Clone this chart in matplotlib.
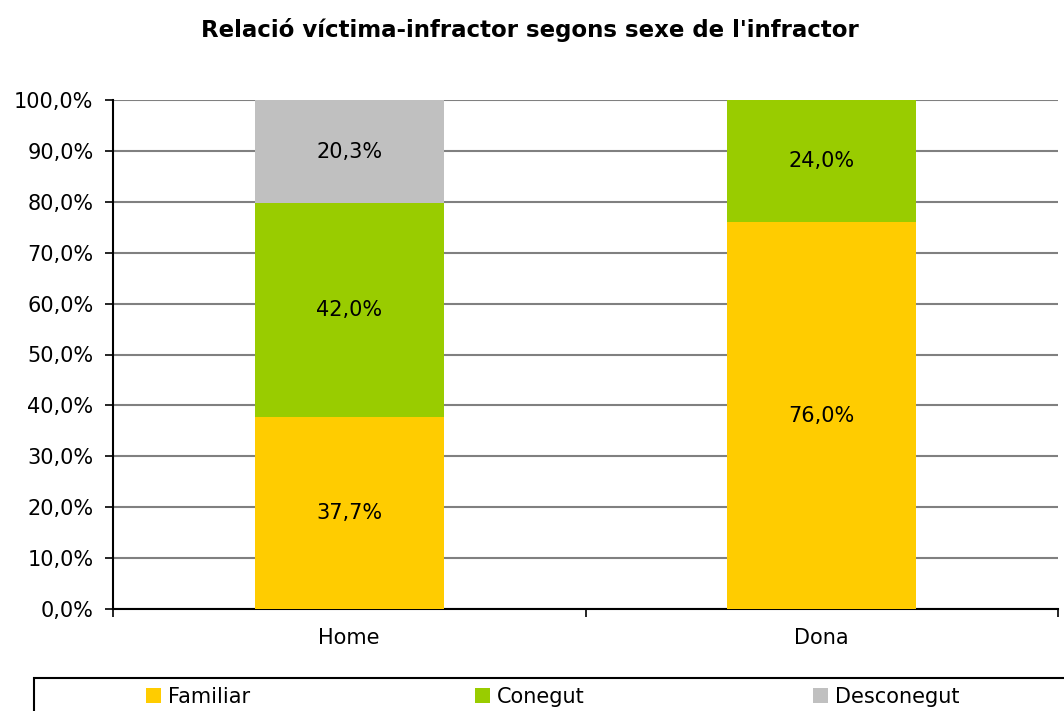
import matplotlib
matplotlib.use("Agg")
import matplotlib.pyplot as plt
from matplotlib.patches import Rectangle
from matplotlib.ticker import FixedLocator, FuncFormatter

categories = ["Home", "Dona"]
series_names = ["Familiar", "Conegut", "Desconegut"]
familiar = [37.7, 76.0]
conegut = [42.0, 24.0]
desconegut = [20.3, 0.0]
colors = ["#FFCC00", "#99CC00", "#C0C0C0"]
title = "Relació víctima-infractor segons sexe de l'infractor"

FS = 15
W, H = 1064, 711
plt.rcParams['font.family'] = ['DejaVu Sans']
fig = plt.figure(figsize=(W/100, H/100), dpi=100)
ax = fig.add_axes([113/W, 1-609/H, (1058-113)/W, (609-100)/H])

x = list(range(len(categories)))
bottom = [0.0] * len(categories)
handles = []
for name, vals, col in zip(series_names, [familiar, conegut, desconegut], colors):
    bars = ax.bar(x, vals, width=0.4, bottom=bottom, color=col, label=name, zorder=3)
    handles.append(bars)
    for xi, v, b in zip(x, vals, bottom):
        if v > 0:
            ax.text(xi, b + v / 2, f"{v:.1f}%".replace(".", ","), ha="center", va="center",
                    fontsize=FS, color="black", zorder=4)
    bottom = [b + v for b, v in zip(bottom, vals)]

ax.set_xlim(-0.5, 1.5)
ax.set_ylim(0, 100)
ax.yaxis.set_major_locator(FixedLocator(range(0, 101, 10)))
ax.yaxis.set_major_formatter(FuncFormatter(lambda v, p: f"{v:.1f}%".replace(".", ",")))
ax.set_xticks(x)
ax.set_xticklabels(categories, fontsize=FS)
ax.set_xticks([-0.5, 0.5, 1.5], minor=True)
ax.tick_params(axis="x", which="major", length=0, pad=14)
ax.tick_params(axis="x", which="minor", length=6, width=1.2, direction="out")
ax.tick_params(axis="y", labelsize=FS, length=6, width=1.2, direction="out", pad=8)
ax.grid(axis="y", color="#808080", linewidth=1.5, zorder=1)
for s in ["top", "right"]:
    ax.spines[s].set_visible(False)
for s in ["left", "bottom"]:
    ax.spines[s].set_linewidth(1.5)
    ax.spines[s].set_color("black")

fig.text(530/W, 1 - 30/H, title, ha="center", va="center", fontsize=16.5, fontweight="bold")

# legend frame (extends beyond the figure edges, as in the reference)
fig.patches.append(Rectangle((34/W, 1 - 760/H), 1.2, 82/H, transform=fig.transFigure,
                             facecolor="white", edgecolor="black", linewidth=1.5, zorder=0))
leg_x = [146, 475, 813]
for h, name, lx in zip(handles, series_names, leg_x):
    fig.legend(handles=[h], labels=[name], loc="center left",
               bbox_to_anchor=(lx/W, 1 - 697/H), frameon=False,
               fontsize=FS, handlelength=0.7, handleheight=0.7,
               handletextpad=0.35, borderaxespad=0, borderpad=0)

fig.savefig("out.png", dpi=100)
